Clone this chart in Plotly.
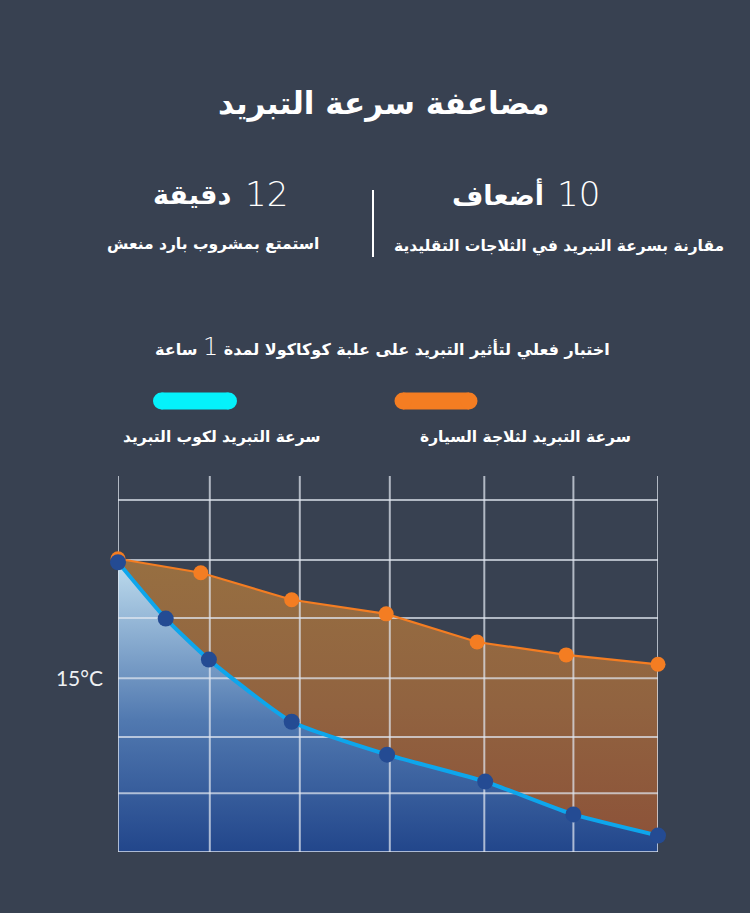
import plotly.graph_objects as go

# ---------------- data ----------------
title_text = "مضاعفة سرعة التبريد"
stat1_num, stat1_word, stat1_sub = "10", "أضعاف", "مقارنة بسرعة التبريد في الثلاجات التقليدية"
stat2_num, stat2_word, stat2_sub = "12", "دقيقة", "استمتع بمشروب بارد منعش"
test_before, test_num, test_after = "اختبار فعلي لتأثير التبريد على علبة كوكاكولا لمدة", "1", "ساعة"
series_names = ["سرعة التبريد لثلاجة السيارة", "سرعة التبريد لكوب التبريد"]

car_minutes = [0, 9.2, 19.3, 29.8, 39.9, 49.8, 60]
car_temp = [25.0, 23.8, 21.5, 20.3, 17.9, 16.8, 16.0]
cup_minutes = [0, 5.3, 10.1, 19.3, 29.9, 40.8, 50.6, 60]
cup_temp = [24.7, 19.9, 16.4, 11.1, 8.3, 6.0, 3.2, 1.4]

x_grid = [0, 10.2, 20.2, 30.2, 40.7, 50.6, 60]
y_grid = [0, 5.0, 9.8, 14.8, 19.95, 24.9, 30]
y_top = 32.05
y_tickvals = [14.8]
y_ticktext = ["15°C"]

# ---------------- style ----------------
W, H = 750, 913
L, R, T, B = 118, 658, 476, 852
BG = "#384151"
ARABIC = "DejaVu Sans"
ORANGE = "#f47d22"
CYAN = "#05f1fb"
BLUE_LINE = "#0ea6ec"
BLUE_MARK = "#244b93"
GRID = "rgba(225,230,240,0.72)"


def px(x):
    return (x - L) / (R - L)


def py(y):
    return (B - y) / (B - T)


fig = go.Figure()

# fills
fig.add_trace(go.Scatter(
    x=cup_minutes, y=cup_temp, mode="lines", line=dict(width=0, shape="spline", smoothing=0.5),
    fill="tozeroy",
    fillgradient=dict(type="vertical", start=0, stop=25,
                      colorscale=[[0, "#22468b"], [0.45, "#5179b0"], [1, "#c0deef"]]),
    hoverinfo="skip", showlegend=False))
fig.add_trace(go.Scatter(
    x=car_minutes, y=car_temp, mode="lines", line=dict(width=0),
    fill="tonexty",
    fillgradient=dict(type="vertical", start=0, stop=25,
                      colorscale=[[0, "#8c5138"], [0.5, "#916340"], [1, "#976f41"]]),
    hoverinfo="skip", showlegend=False))

# grid lines (drawn above fills)
gx, gy = [], []
for g in x_grid:
    gx += [g, g, None]
    gy += [0, y_top, None]
for g in y_grid:
    gx += [x_grid[0], x_grid[-1], None]
    gy += [g, g, None]
fig.add_trace(go.Scatter(x=gx, y=gy, mode="lines", line=dict(color=GRID, width=2),
                         hoverinfo="skip", showlegend=False, cliponaxis=False))

# lines + markers
fig.add_trace(go.Scatter(
    x=car_minutes, y=car_temp, mode="lines+markers",
    line=dict(color=ORANGE, width=2.2),
    marker=dict(color=ORANGE, size=15, line=dict(width=0)),
    cliponaxis=False, showlegend=False, name=series_names[0]))
fig.add_trace(go.Scatter(
    x=cup_minutes, y=cup_temp, mode="lines+markers",
    line=dict(color=BLUE_LINE, width=4, shape="spline", smoothing=0.5),
    marker=dict(color=BLUE_MARK, size=16, line=dict(width=0)),
    cliponaxis=False, showlegend=False, name=series_names[1]))

ann = []


def add_text(text, x, y, size, xanchor="center", bold=True, family=ARABIC, weight=None, color="white"):
    f = dict(family=family, size=size, color=color)
    if weight is not None:
        f["weight"] = weight
    elif bold:
        f["weight"] = "bold"
    ann.append(dict(text=text, x=px(x), y=py(y), xref="paper", yref="paper",
                    xanchor=xanchor, yanchor="middle", showarrow=False, font=f))


RLE, PDF = "\u202b", "\u202c"

add_text(title_text, 383, 103, 31)
# stats
add_text(stat1_num, 555, 194, 34, xanchor="left", bold=False, weight=200)
add_text(stat1_word, 546, 194, 27, xanchor="right")
add_text(stat2_num, 243, 194, 34, xanchor="left", bold=False, weight=200)
add_text(stat2_word, 233, 194, 27, xanchor="right")
add_text(stat1_sub, 559, 246, 15.5)
add_text(stat2_sub, 213, 244, 15.5)
# test line
sentence = (RLE + test_before + " <span style='font-weight:200;font-size:24px'>" + test_num +
            "</span> " + test_after + PDF)
add_text(sentence, 382, 347, 16)
# legend labels
add_text(series_names[0], 525, 437, 15.5)
add_text(series_names[1], 222, 437, 15.5)

shapes = []
# divider
shapes.append(dict(type="line", xref="paper", yref="paper", x0=px(373), x1=px(373), y0=py(190), y1=py(257),
                   line=dict(color="white", width=2)))


def pill(cx, cy, w, h, color):
    r = h / 2
    half = w / 2 - r
    base = dict(xref="paper", yref="paper", xsizemode="pixel", ysizemode="pixel",
                xanchor=px(cx), yanchor=py(cy), fillcolor=color, line=dict(width=0), layer="above")
    shapes.append(dict(type="rect", x0=-half, x1=half, y0=-r, y1=r, **base))
    shapes.append(dict(type="circle", x0=-half - r, x1=-half + r, y0=-r, y1=r, **base))
    shapes.append(dict(type="circle", x0=half - r, x1=half + r, y0=-r, y1=r, **base))


pill(436, 401, 83, 17, ORANGE)
pill(195, 401, 84, 17, CYAN)

fig.update_layout(
    width=W, height=H,
    margin=dict(l=L, r=W - R, t=T, b=H - B, pad=0),
    paper_bgcolor=BG, plot_bgcolor=BG,
    xaxis=dict(range=[0, 60], showgrid=False, zeroline=False, showticklabels=False,
               ticks="", showline=False, fixedrange=True),
    yaxis=dict(range=[0, y_top], showgrid=False, zeroline=False, tickvals=y_tickvals, ticktext=y_ticktext,
               ticks="", showline=False, ticklabelstandoff=14,
               tickfont=dict(family="Lato", size=21, color="#eef0f3"), fixedrange=True),
    annotations=ann, shapes=shapes, showlegend=False,
)

fig.write_html("out.html", config={"displayModeBar": False},
               post_script="document.body.style.margin='0';document.body.style.overflow='hidden';"
                           "document.body.style.background='" + BG + "';")
